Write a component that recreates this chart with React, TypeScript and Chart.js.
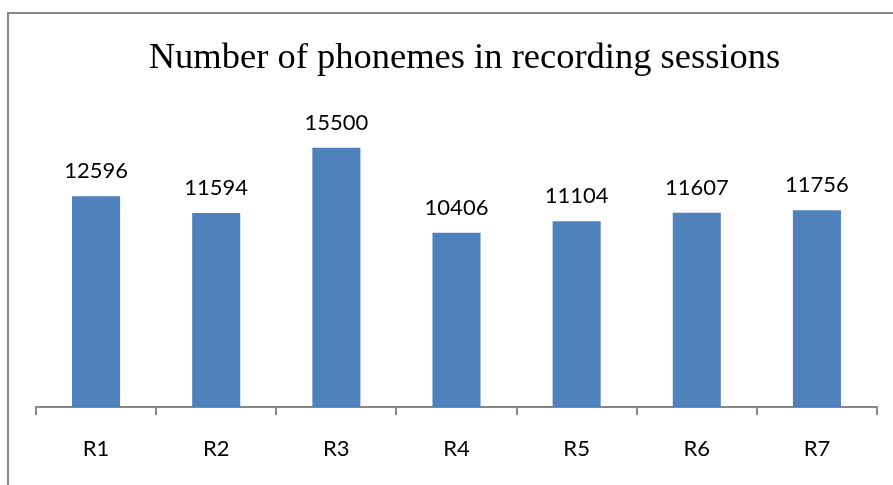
import React, { useEffect, useRef } from "react";
import { Chart, registerables } from "chart.js";

Chart.register(...registerables);

const categories = ["R1", "R2", "R3", "R4", "R5", "R6", "R7"];
const phonemeCounts = [12596, 11594, 15500, 10406, 11104, 11607, 11756];
const titleText = "Number of phonemes in recording sessions";

const frameBorder = {
  id: "frameBorder",
  beforeDraw(chart: any) {
    const ctx = chart.ctx;
    ctx.save();
    ctx.strokeStyle = "#878787";
    ctx.lineWidth = 2;
    ctx.strokeRect(8, 13, chart.width + 20, chart.height + 20);
    ctx.restore();
  },
};

const valueLabels = {
  id: "valueLabels",
  afterDatasetsDraw(chart: any) {
    const ctx = chart.ctx;
    const meta = chart.getDatasetMeta(0);
    ctx.save();
    ctx.font = "22px Lato";
    ctx.fillStyle = "#000000";
    ctx.textAlign = "center";
    ctx.textBaseline = "alphabetic";
    meta.data.forEach((bar: any, i: number) => {
      ctx.fillText(String(chart.data.datasets[0].data[i]), bar.x, bar.y - 18);
    });
    ctx.restore();
  },
};

export default function App() {
  const ref = useRef<HTMLCanvasElement | null>(null);
  useEffect(() => {
    document.body.style.margin = "0";
    const chart = new Chart(ref.current!, {
      type: "bar",
      data: {
        labels: categories,
        datasets: [
          {
            data: phonemeCounts,
            backgroundColor: "#4F81BD",
            barPercentage: 0.5,
            categoryPercentage: 0.8,
          },
        ],
      },
      options: {
        animation: false,
        responsive: false,
        layout: { padding: { left: 36, right: 0, top: 20, bottom: 0 } },
        plugins: {
          legend: { display: false },
          tooltip: { enabled: false },
          title: {
            display: true,
            text: titleText,
            font: { family: "'Liberation Serif'", size: 36.5, weight: "normal" },
            color: "#000000",
            padding: { top: 17, bottom: 25 },
          },
        },
        scales: {
          y: {
            display: true,
            position: "right",
            min: 0,
            max: 18000,
            grid: { display: false },
            border: { display: false },
            ticks: { display: false },
            afterFit: (scale: any) => {
              scale.width = 16;
            },
          },
          x: {
            afterFit: (scale: any) => {
              scale.height = 78;
            },
            grid: {
              display: true,
              drawOnChartArea: false,
              drawTicks: true,
              tickLength: 8,
              color: "#878787",
              lineWidth: 2,
              offset: true,
            },
            border: { display: true, color: "#878787", width: 2 },
            ticks: {
              font: { family: "Lato", size: 22 },
              color: "#000000",
              padding: 21,
            },
          },
        },
      },
      plugins: [frameBorder, valueLabels],
    });
    return () => chart.destroy();
  }, []);
  return (
    <div style={{ width: 893, height: 485 }}>
      <canvas ref={ref} width={893} height={485} />
    </div>
  );
}
